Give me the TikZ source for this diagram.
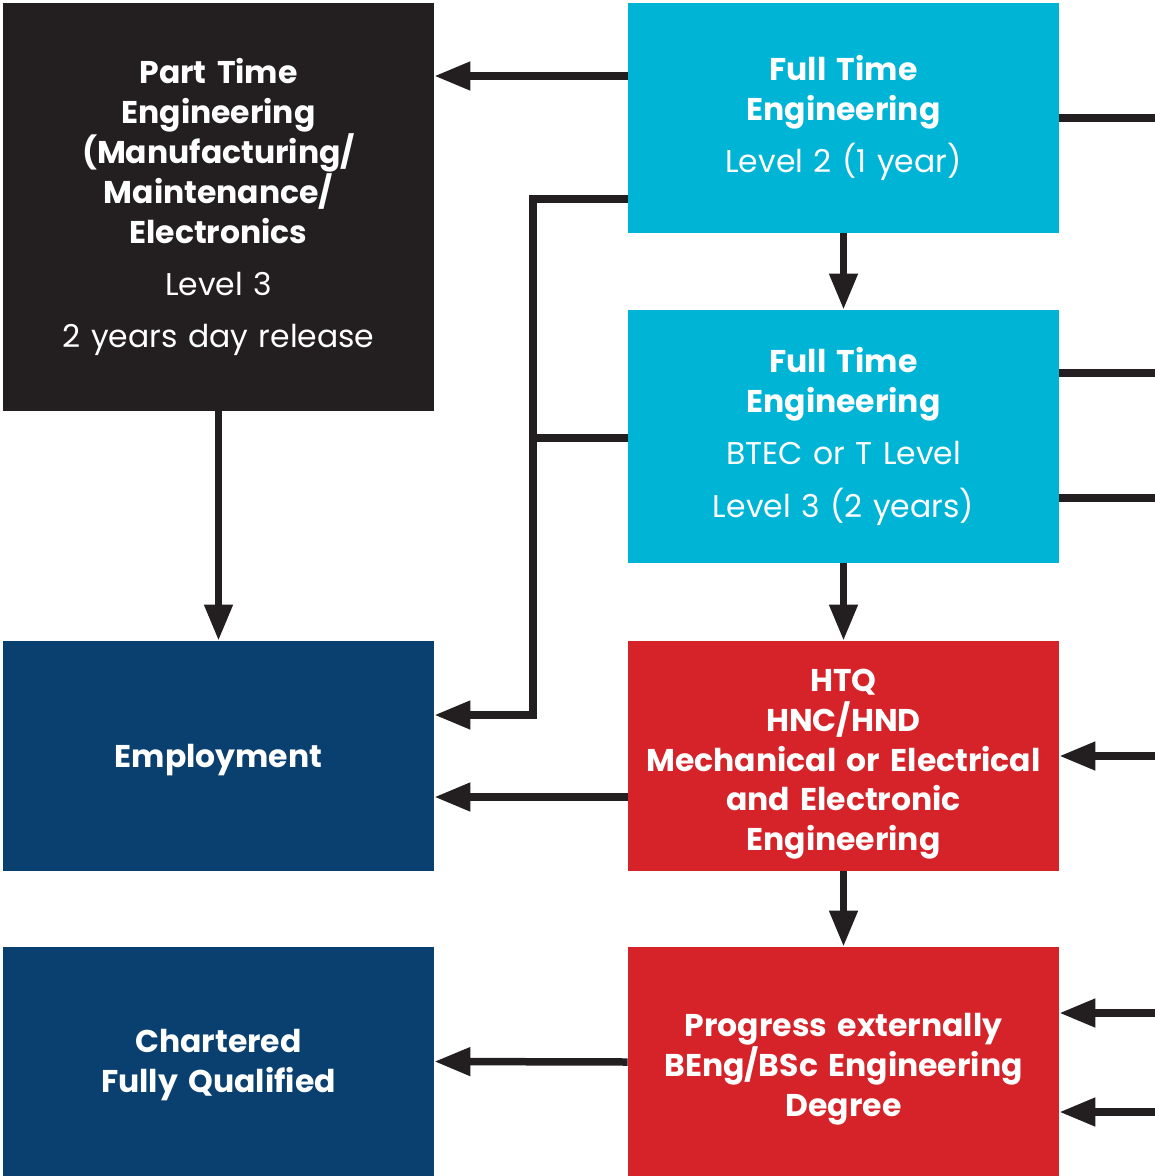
\documentclass[tikz,border=0pt]{standalone}
\usepackage{fontspec}
\setmainfont{Poppins}
\usetikzlibrary{arrows.meta, positioning}

\definecolor{darkbox}{RGB}{35,31,32}
\definecolor{cyanbox}{RGB}{0,180,214}
\definecolor{navybox}{RGB}{9,64,111}
\definecolor{redbox}{RGB}{213,35,41}

\tikzset{
  box/.style={minimum width=8.62cm, text width=8.5cm, align=center, text=white,
    inner sep=0pt, font=\fontsize{17.9}{22.7}\selectfont},
  link/.style={draw=darkbox, line width=0.15cm, line join=miter},
  arr/.style={link, -{Triangle[length=0.72cm, width=0.54cm]}}
}

\begin{document}
\begin{tikzpicture}[x=0.02cm, y=-0.02cm]
\useasboundingbox (0,0) rectangle (1155,1176);

\node[box, fill=darkbox, minimum height=8.16cm] (parttime) at (218.5,207)
  {\textbf{Part Time}\\ \textbf{Engineering}\\ \textbf{(Manufacturing/}\\
   \textbf{Maintenance/}\\ \textbf{Electronics}\\[7pt] Level 3\\[7pt] 2 years day release};
\node[box, fill=cyanbox, minimum height=4.6cm] (ftlevel2) at (843.5,118)
  {\textbf{Full Time}\\ \textbf{Engineering}\\[7pt] Level 2 (1 year)};
\node[box, fill=cyanbox, minimum height=5.06cm] (ftlevel3) at (843.5,436.5)
  {\textbf{Full Time}\\ \textbf{Engineering}\\[7pt] BTEC or T Level\\[7pt] Level 3 (2 years)};
\node[box, fill=navybox, minimum height=4.6cm] (employ) at (218.5,756)
  {\rule{0pt}{17.5pt}\textbf{Employment}};
\node[box, fill=redbox, minimum height=4.6cm] (htq) at (843.5,756)
  {\rule{0pt}{22pt}\textbf{HTQ}\\ \textbf{HNC/HND}\\ \textbf{Mechanical or Electrical}\\
   \textbf{and Electronic}\\ \textbf{Engineering}};
\node[box, fill=navybox, minimum height=4.58cm] (chartered) at (218.5,1061.5)
  {\rule{0pt}{17.5pt}\textbf{Chartered}\\ \textbf{Fully Qualified}};
\node[box, fill=redbox, minimum height=4.58cm] (degree) at (843.5,1061.5)
  {\rule{0pt}{22pt}\textbf{Progress externally}\\ \textbf{BEng/BSc Engineering}\\ \textbf{Degree}};

\coordinate (edge) at (1155,0);
\coordinate (bus) at (533,199);

% down the middle column
\draw[arr] (ftlevel2) -- (ftlevel3);
\draw[arr] (ftlevel3) -- (htq);
\draw[arr] (htq) -- (degree);
\draw[arr] (parttime) -- (employ);

% across to the left column
\draw[arr] (ftlevel2.west |- 0,76) -- (parttime.east |- 0,76);
\draw[arr] (htq.west |- 0,797) -- (employ.east |- 0,797);
\draw[arr] (degree.west |- 0,1062) -- (degree.west -| chartered.east);
\draw[arr] (ftlevel2.west |- bus) -- (bus) -- (bus |- 0,715) -- (employ.east |- 0,715);
\draw[link] (ftlevel3.west |- 0,438) -- (bus |- 0,438);

% off the right edge
\draw[link] (ftlevel2.east) -- (edge |- ftlevel2.east);
\draw[link] (ftlevel3.east |- 0,373) -- (edge |- 0,373);
\draw[link] (ftlevel3.east |- 0,498) -- (edge |- 0,498);
\draw[arr] (edge |- htq.east) -- (htq.east);
\draw[arr] (edge |- 0,1013) -- (degree.east |- 0,1013);
\draw[arr] (edge |- 0,1112) -- (degree.east |- 0,1112);
\end{tikzpicture}
\end{document}
